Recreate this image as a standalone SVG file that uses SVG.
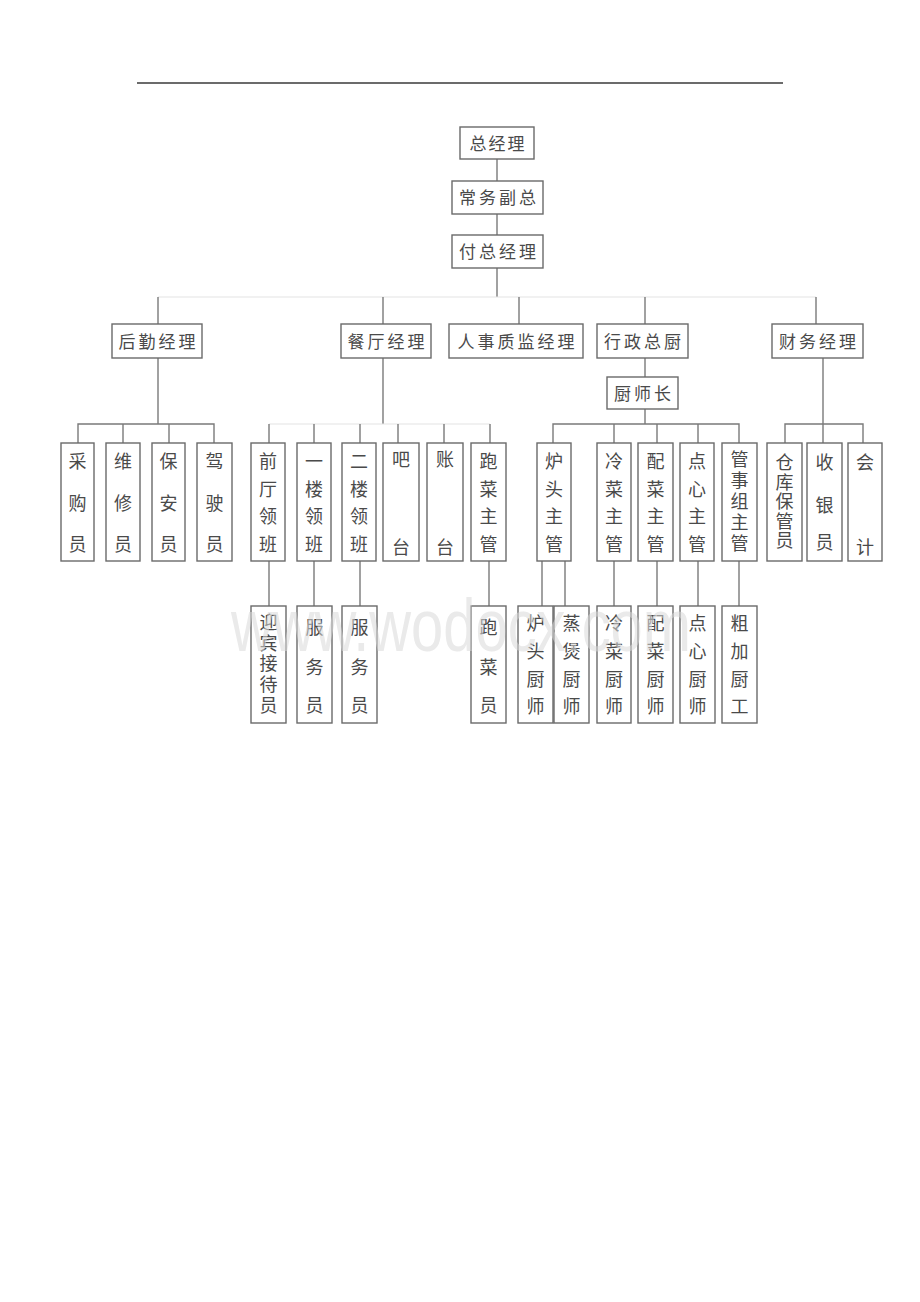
<svg xmlns="http://www.w3.org/2000/svg" width="920" height="1302" viewBox="0 0 920 1302">
<style>
.bx{fill:#fff;stroke:#6a6a6a;stroke-width:1.4}
.t{font-family:"Noto Sans CJK SC","Noto Sans CJK JP",sans-serif;fill:#4a4a4a;text-anchor:middle}
.h{font-size:17px}
.v{font-size:18px}
.ln{stroke:#7a7a7a;stroke-width:1.4;fill:none}
.lt{stroke:#e4e4e4;stroke-width:1.2;fill:none}
.wm{font-family:"Liberation Sans",Arial,sans-serif;font-size:74px;fill:#d9d9d9;opacity:0.55}
</style>
<rect width="920" height="1302" fill="#fff"/>
<line x1="137" y1="83" x2="783" y2="83" stroke="#3a3a3a" stroke-width="1.6"/>

<g id="connectors">
<path class="ln" d="M497 159V181M497 214V235M497 268V297"/>
<path class="lt" d="M158 297H816"/>
<path class="ln" d="M158 297V324M383 297V324M519 297V324M645 297V324M816 297V324"/>
<path class="ln" d="M158 358V424M78 443V424H214V443M123 424V443M169 424V443"/>
<path class="ln" d="M383 358V424"/>
<path class="lt" d="M269 424H490"/>
<path class="ln" d="M269 424V443M314 424V443M360 424V443M398 424V443M444 424V443M490 424V443"/>
<path class="ln" d="M645 358V377M645 409V424M553 443V424H739V443M614 424V443M657 424V443M698 424V443"/>
<path class="ln" d="M823 358V443M785 443V424H863V443"/>
<path class="ln" d="M269 561V606M314 561V606M360 561V606M489 561V606M542 561V606M565 561V606M614 561V606M657 561V606M698 561V606M739 561V606"/>
</g>

<g id="n-zjl"><rect class="bx" x="460" y="127" width="74" height="32"/><text class="t h" x="478 497 516" y="149.5">总经理</text></g>
<g id="n-cwfz"><rect class="bx" x="452" y="181" width="91" height="33"/><text class="t h" x="467.5 487.5 507.5 527.5" y="204">常务副总</text></g>
<g id="n-fzjl"><rect class="bx" x="452" y="235" width="91" height="33"/><text class="t h" x="467.5 487.5 507.5 527.5" y="258">付总经理</text></g>

<g id="n-hqjl"><rect class="bx" x="112" y="324" width="90" height="34"/><text class="t h" x="127 147 167 187" y="347.5">后勤经理</text></g>
<g id="n-ctjl"><rect class="bx" x="341" y="324" width="90" height="34"/><text class="t h" x="356 376 396 416" y="347.5">餐厅经理</text></g>
<g id="n-rszj"><rect class="bx" x="449" y="324" width="134" height="34"/><text class="t h" x="466 486 506 526 546 566" y="347.5">人事质监经理</text></g>
<g id="n-xzzc"><rect class="bx" x="597" y="324" width="91" height="34"/><text class="t h" x="612.5 632.5 652.5 672.5" y="347.5">行政总厨</text></g>
<g id="n-cwjl"><rect class="bx" x="772" y="324" width="91" height="34"/><text class="t h" x="787.5 807.5 827.5 847.5" y="347.5">财务经理</text></g>
<g id="n-csz"><rect class="bx" x="607" y="377" width="71" height="32"/><text class="t h" x="622.5 642.5 662.5" y="399.5">厨师长</text></g>

<g id="n-cgy"><rect class="bx" x="61" y="443" width="33" height="118"/><text class="t v" x="77.5 77.5 77.5" y="468 509.5 551">采购员</text></g>
<g id="n-wxy"><rect class="bx" x="106" y="443" width="34" height="118"/><text class="t v" x="123 123 123" y="468 509.5 551">维修员</text></g>
<g id="n-bay"><rect class="bx" x="152" y="443" width="33" height="118"/><text class="t v" x="168.5 168.5 168.5" y="468 509.5 551">保安员</text></g>
<g id="n-jsy"><rect class="bx" x="197" y="443" width="35" height="118"/><text class="t v" x="214.5 214.5 214.5" y="468 509.5 551">驾驶员</text></g>
<g id="n-qtlb"><rect class="bx" x="251" y="443" width="34" height="118"/><text class="t v" x="268 268 268 268" y="468 495.7 523.3 551">前厅领班</text></g>
<g id="n-yllb"><rect class="bx" x="297" y="443" width="34" height="118"/><text class="t v" x="314 314 314 314" y="468 495.7 523.3 551">一楼领班</text></g>
<g id="n-ellb"><rect class="bx" x="342" y="443" width="34" height="118"/><text class="t v" x="359 359 359 359" y="468 495.7 523.3 551">二楼领班</text></g>
<g id="n-bt"><rect class="bx" x="383" y="443" width="36" height="118"/><text class="t v" x="401 401" y="466 554">吧台</text></g>
<g id="n-zt"><rect class="bx" x="427" y="443" width="36" height="118"/><text class="t v" x="445 445" y="466 554">账台</text></g>
<g id="n-pczg"><rect class="bx" x="471" y="443" width="35" height="118"/><text class="t v" x="488.5 488.5 488.5 488.5" y="468 495.7 523.3 551">跑菜主管</text></g>
<g id="n-ltzg"><rect class="bx" x="537" y="443" width="34" height="118"/><text class="t v" x="554 554 554 554" y="468 495.7 523.3 551">炉头主管</text></g>
<g id="n-lczg"><rect class="bx" x="597" y="443" width="34" height="118"/><text class="t v" x="614 614 614 614" y="468 495.7 523.3 551">冷菜主管</text></g>
<g id="n-pzzg"><rect class="bx" x="638" y="443" width="35" height="118"/><text class="t v" x="655.5 655.5 655.5 655.5" y="468 495.7 523.3 551">配菜主管</text></g>
<g id="n-dxzg"><rect class="bx" x="680" y="443" width="34" height="118"/><text class="t v" x="697 697 697 697" y="468 495.7 523.3 551">点心主管</text></g>
<g id="n-gszg"><rect class="bx" x="722" y="443" width="35" height="118"/><text class="t v" x="739.5 739.5 739.5 739.5 739.5" y="466 487 508 529 550">管事组主管</text></g>
<g id="n-ckbgy"><rect class="bx" x="767" y="443" width="35" height="118"/><text class="t v" x="784.5 784.5 784.5 784.5 784.5" y="469 488.5 508 527.5 547">仓库保管员</text></g>
<g id="n-syy"><rect class="bx" x="807" y="443" width="35" height="118"/><text class="t v" x="824.5 824.5 824.5" y="469 512 549">收银员</text></g>
<g id="n-kj"><rect class="bx" x="848" y="443" width="34" height="118"/><text class="t v" x="865 865" y="469 554">会计</text></g>

<g id="n-ybjdy"><rect class="bx" x="251" y="606" width="35" height="117"/><text class="t v" x="268.5 268.5 268.5 268.5 268.5" y="629 650 670 690.5 712">迎宾接待员</text></g>
<g id="n-fwy1"><rect class="bx" x="297" y="606" width="35" height="117"/><text class="t v" x="314.5 314.5 314.5" y="634 674 712">服务员</text></g>
<g id="n-fwy2"><rect class="bx" x="342" y="606" width="35" height="117"/><text class="t v" x="359.5 359.5 359.5" y="634 674 712">服务员</text></g>
<g id="n-pcy"><rect class="bx" x="471" y="606" width="35" height="117"/><text class="t v" x="488.5 488.5 488.5" y="634 674 712">跑菜员</text></g>
<g id="n-ltcs"><rect class="bx" x="518" y="606" width="35" height="117"/><text class="t v" x="535.5 535.5 535.5 535.5" y="630 658 686 713">炉头厨师</text></g>
<g id="n-zbcs"><rect class="bx" x="554" y="606" width="35" height="117"/><text class="t v" x="571.5 571.5 571.5 571.5" y="630 658 686 713">蒸煲厨师</text></g>
<g id="n-lccs"><rect class="bx" x="597" y="606" width="34" height="117"/><text class="t v" x="614 614 614 614" y="630 658 686 713">冷菜厨师</text></g>
<g id="n-pccs"><rect class="bx" x="638" y="606" width="35" height="117"/><text class="t v" x="655.5 655.5 655.5 655.5" y="630 658 686 713">配菜厨师</text></g>
<g id="n-dxcs"><rect class="bx" x="680" y="606" width="35" height="117"/><text class="t v" x="697.5 697.5 697.5 697.5" y="630 658 686 713">点心厨师</text></g>
<g id="n-cjcg"><rect class="bx" x="722" y="606" width="35" height="117"/><text class="t v" x="739.5 739.5 739.5 739.5" y="630 658 686 713">粗加厨工</text></g>

<text class="wm" x="231" y="651" textLength="460" lengthAdjust="spacingAndGlyphs">www.wodocx.com</text>
</svg>
